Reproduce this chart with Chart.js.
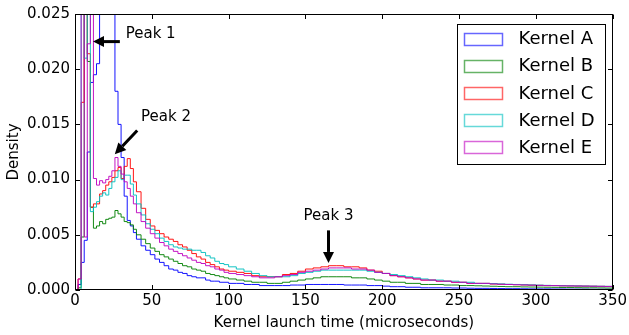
<!DOCTYPE html>
<html><head><meta charset="utf-8">
<script src="https://cdn.jsdelivr.net/npm/chart.js@4"></script>
<style>html,body{margin:0;padding:0;background:#fff;}#wrap{width:629px;height:335px;position:relative;}</style>
</head><body><div id="wrap"><canvas id="c"></canvas></div>
<script>
// ---- data ----
const seriesNames = ['Kernel A', 'Kernel B', 'Kernel C', 'Kernel D', 'Kernel E'];
const binEdges = [0,2,4,6,8,10,12,14,16,18,20,22,24,26,28,30,32,34,36,38,40,
  43,46,49,52,55,58,61,64,67,70,73,76,79,82,85,88,91,94,97,100,
  105,110,115,120,125,130,135,140,145,150,155,160,165,170,175,180,185,190,195,200,
  205,210,215,220,225,230,235,240,245,250,255,260,265,270,275,280,285,290,295,300,
  305,310,315,320,325,330,335,340,345,350];
const kernelA = [0,0.0005,0.0025,0.0045,0.0125,0.0188,0.0195,0.0205,0.040,0.045,0.046,0.044,0.040,0.0180,0.0150,0.0120,0.0085,0.0063,0.0058,0.0052,
  0.0046,0.0040,0.0036,0.0032,0.0028,0.0025,0.0022,0.0019,0.0018,0.0016,0.0015,0.0013,0.0012,0.0011,0.0011,0.0009,0.0008,0.0008,0.0007,0.0007,
  0.0006,0.0006,0.0005,0.0005,0.0004,0.0004,0.0004,0.0004,0.00045,0.00045,0.0005,0.0005,0.0005,0.0005,0.0005,0.00045,0.00045,0.00045,0.0004,0.0004,
  0.00035,0.0003,0.0003,0.00025,0.00025,0.0002,0.0002,0.0002,0.0002,0.00018,0.00018,0.00016,0.00015,0.00015,0.00014,0.00013,0.00012,0.00012,0.00011,0.0001,
  0.0001,0.0001,0.00009,0.00009,0.00008,0.00008,0.00008,0.00007,0.00007,0.00007];
const kernelB = [0,0.0002,0.0048,0.030,0.0207,0.0075,0.0056,0.0058,0.0062,0.0060,0.0064,0.0065,0.0066,0.0072,0.0069,0.0066,0.0062,0.0061,0.0059,0.0055,
  0.0050,0.0046,0.0042,0.0038,0.0035,0.0032,0.0030,0.0028,0.0026,0.0024,0.0022,0.0021,0.0019,0.0018,0.0017,0.0015,0.0014,0.0013,0.0012,0.0011,
  0.0010,0.0009,0.0008,0.0007,0.0007,0.0006,0.0006,0.0007,0.0008,0.0009,0.0010,0.0011,0.0012,0.0012,0.0012,0.0012,0.0011,0.0011,0.0010,0.0009,
  0.0008,0.0007,0.0007,0.0006,0.0006,0.0005,0.0005,0.0005,0.00045,0.00045,0.0004,0.0004,0.00038,0.00036,0.00034,0.00032,0.0003,0.0003,0.00028,0.00027,
  0.00026,0.00025,0.00024,0.00023,0.00022,0.00021,0.0002,0.0002,0.00019,0.00018];
const kernelC = [0,0.001,0.0170,0.035,0.0214,0.0075,0.0078,0.0078,0.0087,0.0090,0.0095,0.0098,0.0102,0.0108,0.0111,0.0101,0.0112,0.0119,0.0110,0.0098,
  0.0089,0.0074,0.0064,0.0058,0.0054,0.0051,0.0048,0.0046,0.0044,0.0041,0.0039,0.0036,0.0033,0.0030,0.0028,0.0025,0.0023,0.0021,0.0019,0.0018,
  0.0017,0.0016,0.0015,0.0013,0.0012,0.0012,0.0012,0.0014,0.0015,0.0017,0.0019,0.0020,0.0021,0.0022,0.0022,0.0021,0.0021,0.0020,0.0018,0.0017,
  0.0015,0.0013,0.0012,0.0011,0.0010,0.0009,0.0009,0.0008,0.0008,0.0007,0.0007,0.0006,0.0006,0.0006,0.00055,0.00052,0.0005,0.00048,0.00046,0.00044,
  0.00042,0.0004,0.0004,0.00038,0.00037,0.00036,0.00035,0.00034,0.00033,0.00032];
const kernelD = [0,0,0.030,0.021,0.032,0.0071,0.0075,0.0080,0.0085,0.0088,0.0086,0.0092,0.0098,0.0102,0.0108,0.0100,0.0104,0.0104,0.0096,0.0086,
  0.0078,0.0068,0.0060,0.0055,0.0051,0.0047,0.0044,0.0041,0.0039,0.0038,0.0037,0.0037,0.0036,0.0036,0.0034,0.0031,0.0029,0.0026,0.0024,0.0023,
  0.0021,0.0019,0.0017,0.0015,0.0013,0.0012,0.0012,0.0012,0.0013,0.0015,0.0016,0.0017,0.0018,0.0018,0.0018,0.0018,0.0018,0.0018,0.0017,0.0016,
  0.0015,0.0014,0.0013,0.0012,0.0011,0.0010,0.0009,0.0009,0.0008,0.0008,0.0007,0.0007,0.0006,0.0006,0.00058,0.00055,0.00052,0.0005,0.00048,0.00046,
  0.00044,0.00042,0.0004,0.00039,0.00038,0.00037,0.00036,0.00035,0.00034,0.00033];
const kernelE = [0,0.001,0.040,0.0048,0.0223,0.030,0.0101,0.0095,0.0099,0.0097,0.0100,0.0103,0.0108,0.0120,0.0112,0.0105,0.0098,0.0092,0.0085,0.0078,
  0.0070,0.0062,0.0056,0.0051,0.0047,0.0043,0.0040,0.0037,0.0035,0.0033,0.0031,0.0029,0.0027,0.0025,0.0024,0.0022,0.0021,0.0019,0.0018,0.0016,
  0.0015,0.0014,0.0013,0.0012,0.0011,0.0011,0.0012,0.0013,0.0014,0.0016,0.0017,0.0018,0.0019,0.0020,0.0020,0.0020,0.0019,0.0019,0.0018,0.0016,
  0.0015,0.0013,0.0012,0.0011,0.0010,0.0009,0.0009,0.0008,0.0008,0.0007,0.0007,0.0006,0.0006,0.0006,0.00055,0.00052,0.0005,0.00048,0.00046,0.00044,
  0.00042,0.0004,0.0004,0.00038,0.00037,0.00036,0.00035,0.00034,0.00033,0.00032];
const seriesValues = [kernelA, kernelB, kernelC, kernelD, kernelE];
const xTicks = [0, 50, 100, 150, 200, 250, 300, 350];
const yTicks = [0.000, 0.005, 0.010, 0.015, 0.020, 0.025];
const peakLabels = ['Peak 1', 'Peak 2', 'Peak 3'];

// ---- styling / annotation layout ----
const colors = ['rgba(0,0,255,0.92)','rgba(0,128,0,0.92)','rgba(255,0,0,0.92)','rgba(0,191,191,0.92)','rgba(191,0,191,0.92)'];
const legendColors = ['rgba(0,0,255,0.6)','rgba(0,128,0,0.6)','rgba(255,0,0,0.6)','rgba(0,191,191,0.6)','rgba(191,0,191,0.6)'];
const FONT = "'DejaVu Sans', sans-serif";
const annots = [
  {text: {x: 33, y: 0.0232, align: 'left'}, tail: {x: 29.2, y: 0.0225}, tip: {x: 11.7, y: 0.0225}},
  {text: {x: 43, y: 0.0157, align: 'left'}, tail: {x: 40.5, y: 0.01445}, tip: {x: 25.9, y: 0.0123}},
  {text: {x: 165, y: 0.0067, align: 'center'}, tail: {x: 165, y: 0.0054}, tip: {x: 165, y: 0.00245}}
];

function histPoints(vals) {
  const pts = vals.map((v, i) => ({x: binEdges[i], y: v}));
  pts.push({x: binEdges[binEdges.length - 1], y: 0});
  return pts;
}

const datasets = seriesNames.map((name, i) => ({
  label: name,
  data: histPoints(seriesValues[i]),
  borderColor: colors[i],
  backgroundColor: colors[i],
  borderWidth: 1,
  pointRadius: 0,
  stepped: true,
  tension: 0,
  fill: false,
  clip: 0,
  order: seriesNames.length - 1 - i
}));

function arrow(ctx, x1, y1, x2, y2) {
  const ang = Math.atan2(y2 - y1, x2 - x1);
  const hl = 11, hw = 5.5;
  const bx = x2 - hl * Math.cos(ang), by = y2 - hl * Math.sin(ang);
  ctx.save();
  ctx.strokeStyle = '#000'; ctx.fillStyle = '#000';
  ctx.lineWidth = 3;
  ctx.beginPath(); ctx.moveTo(x1, y1); ctx.lineTo(bx, by); ctx.stroke();
  ctx.beginPath();
  ctx.moveTo(x2, y2);
  ctx.lineTo(bx + hw * Math.sin(ang), by - hw * Math.cos(ang));
  ctx.lineTo(bx - hw * Math.sin(ang), by + hw * Math.cos(ang));
  ctx.closePath(); ctx.fill();
  ctx.restore();
}

const decor = {
  id: 'decor',
  afterDraw(chart) {
    const {ctx, chartArea: a, scales: {x, y}} = chart;
    ctx.save();
    // frame
    ctx.strokeStyle = '#000'; ctx.lineWidth = 1;
    const L = Math.round(a.left) + 0.5, R = Math.round(a.right) - 0.5, T = Math.round(a.top) + 0.5, B = Math.round(a.bottom) - 0.5;
    ctx.strokeRect(L, T, R - L, B - T);
    // inward ticks on all sides
    const tl = 4.5;
    ctx.beginPath();
    x.ticks.forEach(t => {
      const px = Math.round(x.getPixelForValue(t.value)) + 0.5;
      ctx.moveTo(px, B); ctx.lineTo(px, B - tl);
      ctx.moveTo(px, T); ctx.lineTo(px, T + tl);
    });
    y.ticks.forEach(t => {
      const py = Math.round(y.getPixelForValue(t.value)) + 0.5;
      ctx.moveTo(L, py); ctx.lineTo(L + tl, py);
      ctx.moveTo(R, py); ctx.lineTo(R - tl, py);
    });
    ctx.stroke();
    // annotations
    ctx.fillStyle = '#000';
    ctx.font = '15px ' + FONT;
    ctx.textBaseline = 'middle';
    annots.forEach((an, i) => {
      ctx.textAlign = an.text.align;
      ctx.fillText(peakLabels[i], x.getPixelForValue(an.text.x), y.getPixelForValue(an.text.y));
      arrow(ctx, x.getPixelForValue(an.tail.x), y.getPixelForValue(an.tail.y),
                 x.getPixelForValue(an.tip.x), y.getPixelForValue(an.tip.y));
    });
    // legend
    const bw = 148, bh = 140;
    const bl = Math.round(a.right - 8 - bw) + 0.5, bt = Math.round(a.top + 10) + 0.5;
    ctx.fillStyle = '#fff';
    ctx.fillRect(bl, bt, bw, bh);
    ctx.strokeStyle = '#000'; ctx.lineWidth = 1;
    ctx.strokeRect(bl, bt, bw, bh);
    ctx.font = '18px ' + FONT;
    ctx.textAlign = 'left'; ctx.textBaseline = 'middle';
    seriesNames.forEach((name, i) => {
      const cy = bt + 14 + i * 27.2;
      ctx.strokeStyle = legendColors[i]; ctx.lineWidth = 1.5;
      ctx.strokeRect(bl + 7, Math.round(cy - 6) + 0.5, 38, 12);
      ctx.fillStyle = '#000';
      ctx.fillText(name, bl + 61, cy + 1);
    });
    ctx.restore();
  }
};

new Chart(document.getElementById('c'), {
  type: 'line',
  data: {datasets},
  options: {
    responsive: true,
    maintainAspectRatio: false,
    animation: false,
    events: [],
    layout: {padding: {top: 12, right: 15, left: 0, bottom: 0}},
    plugins: {legend: {display: false}, tooltip: {enabled: false}},
    scales: {
      x: {
        type: 'linear', min: 0, max: 350,
        afterBuildTicks: s => { s.ticks = xTicks.map(v => ({value: v})); },
        afterFit: s => { s.height = 45; },
        grid: {display: false, drawTicks: false},
        border: {display: false},
        ticks: {padding: 2, color: '#000', font: {family: FONT, size: 15}, maxRotation: 0, autoSkip: false},
        title: {display: true, text: 'Kernel launch time (microseconds)', color: '#000', font: {family: FONT, size: 15}, padding: {top: 0, bottom: 3}}
      },
      y: {
        type: 'linear', min: 0, max: 0.025,
        afterBuildTicks: s => { s.ticks = yTicks.map(v => ({value: v})); },
        afterFit: s => { s.width = 75; },
        grid: {display: false, drawTicks: false},
        border: {display: false},
        ticks: {padding: 5, color: '#000', font: {family: FONT, size: 15}, callback: v => v.toFixed(3)},
        title: {display: true, text: 'Density', color: '#000', font: {family: FONT, size: 15}, padding: {top: 5, bottom: 0}}
      }
    }
  },
  plugins: [decor]
});
</script></body></html>
